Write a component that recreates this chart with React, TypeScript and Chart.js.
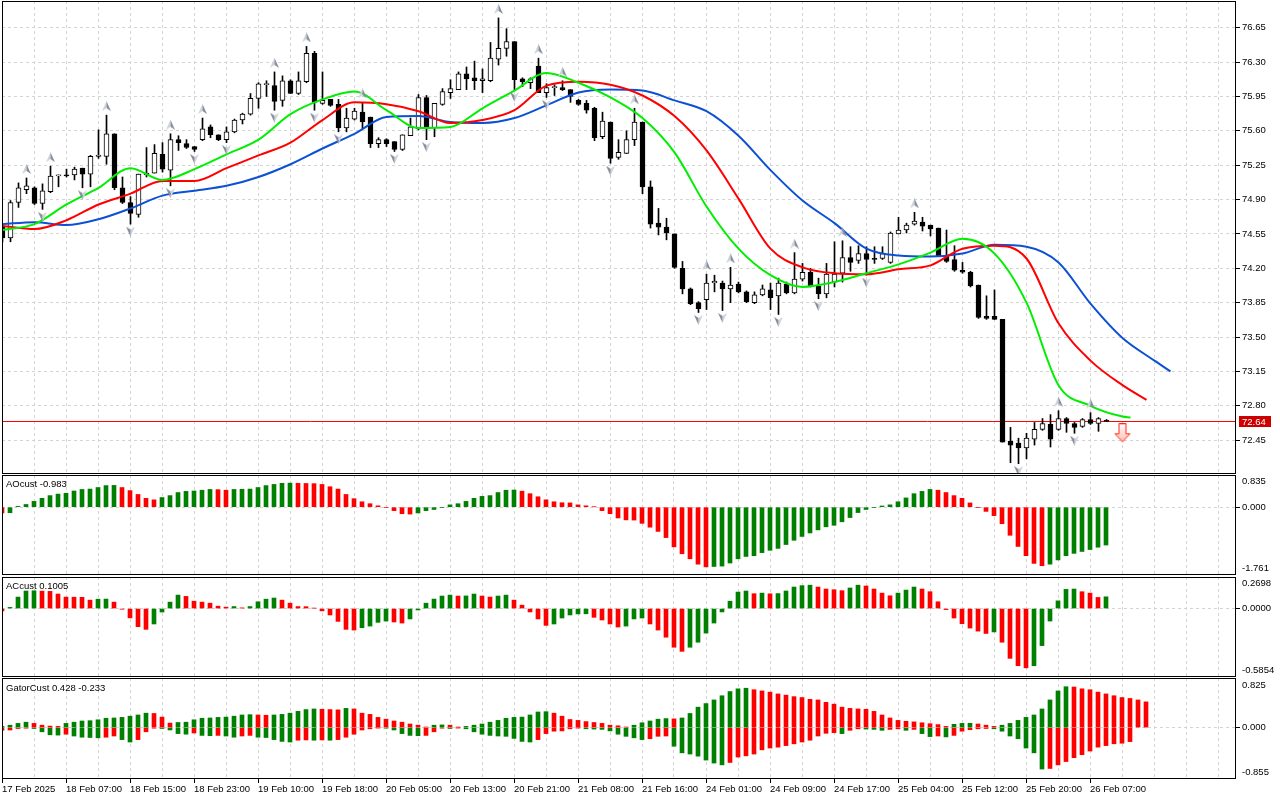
import { useEffect, useRef } from 'react'
import { Chart, registerables } from 'chart.js'

Chart.register(...registerables)

const FONT = 'Tahoma, "Liberation Sans", Arial, sans-serif'
const FONT_PX = 9.5
Chart.defaults.font.family = FONT
Chart.defaults.font.size = FONT_PX
Chart.defaults.color = '#000'

// ---- layout ----
const PLOT_W = 1234
const AXIS_W = 44
const BAR_PX = 8
const MAIN_X_MIN = -0.0625

const GREEN = '#008000'
const RED = '#ff0000'
const GRID = '#d4d4d4'
const BLUE_LINE = '#0c50d4'
const RED_LINE = '#ff0000'
const LIME_LINE = '#00ee00'

// ---- time axis (H1 bars, one label every 8 bars) ----
const timeLabels = [
  '17 Feb 2025', '18 Feb 07:00', '18 Feb 15:00', '18 Feb 23:00', '19 Feb 10:00', '19 Feb 18:00',
  '20 Feb 05:00', '20 Feb 13:00', '20 Feb 21:00', '21 Feb 08:00', '21 Feb 16:00', '24 Feb 01:00',
  '24 Feb 09:00', '24 Feb 17:00', '25 Feb 04:00', '25 Feb 12:00', '25 Feb 20:00', '26 Feb 07:00',
]
const gridBars = Array.from({ length: 39 }, (_, k) => k * 4)

// ---- price axis ----
const priceTicks = [72.45, 72.8, 73.15, 73.5, 73.85, 74.2, 74.55, 74.9, 75.25, 75.6, 75.95, 76.3, 76.65]
const PRICE_MIN = 72.1053
const PRICE_MAX = 76.9223

// ---- candles ----
const opens = [
  74.62, 74.51, 74.87, 75.00, 75.02, 74.86, 74.98, 75.14, 75.15, 75.15,
  75.22, 75.16, 75.34, 75.34, 75.57, 75.02, 74.87, 74.75, 75.15, 75.17,
  75.36, 75.20, 75.51, 75.47, 75.44, 75.51, 75.64, 75.56, 75.51, 75.59,
  75.71, 75.77, 75.93, 76.07, 76.06, 75.91, 76.11, 75.98, 76.10, 76.39,
  75.88, 75.92, 75.87, 75.63, 75.72, 75.79, 75.74, 75.47, 75.51, 75.49,
  75.41, 75.55, 75.62, 75.94, 75.63, 75.87, 75.99, 76.02, 76.18, 76.14,
  76.11, 76.11, 76.33, 76.44, 76.51, 76.13, 76.09, 76.26, 75.99, 76.04,
  76.04, 76.02, 75.91, 75.88, 75.83, 75.54, 75.69, 75.33, 75.37, 75.51,
  75.69, 75.03, 74.66, 74.62, 74.55, 74.20, 73.99, 73.85, 73.88, 74.05,
  74.05, 73.99, 74.04, 73.96, 73.85, 73.93, 73.98, 73.92, 74.04, 73.95,
  74.09, 74.16, 74.02, 73.94, 74.06, 74.15, 74.31, 74.28, 74.35, 74.30,
  74.30, 74.26, 74.55, 74.59, 74.65, 74.67, 74.64, 74.61, 74.32, 74.29,
  74.18, 74.16, 74.03, 73.71, 73.71, 73.68, 72.44, 72.42, 72.37, 72.46,
  72.56, 72.61, 72.56, 72.67, 72.62, 72.59, 72.66, 72.62, 72.65,
]
const highs = [
  74.65, 74.89, 75.07, 75.12, 75.03, 75.06, 75.24, 75.15, 75.21, 75.23,
  75.22, 75.35, 75.61, 75.76, 75.57, 75.13, 74.93, 75.16, 75.43, 75.46,
  75.48, 75.57, 75.55, 75.51, 75.44, 75.73, 75.66, 75.56, 75.64, 75.72,
  75.78, 75.98, 76.09, 76.11, 76.20, 76.16, 76.12, 76.20, 76.46, 76.41,
  76.20, 75.92, 75.92, 75.83, 75.83, 75.89, 75.74, 75.53, 75.52, 75.49,
  75.56, 75.73, 75.97, 75.96, 75.88, 76.03, 76.12, 76.20, 76.25, 76.31,
  76.23, 76.50, 76.75, 76.64, 76.51, 76.14, 76.14, 76.34, 76.08, 76.07,
  76.11, 76.02, 75.92, 75.91, 75.84, 75.79, 75.69, 75.51, 75.60, 75.83,
  75.69, 75.09, 74.81, 74.71, 74.55, 74.27, 74.00, 73.86, 74.14, 74.13,
  74.07, 74.21, 74.06, 73.97, 73.96, 74.03, 74.05, 74.10, 74.06, 74.36,
  74.25, 74.20, 74.10, 74.25, 74.47, 74.48, 74.42, 74.43, 74.42, 74.42,
  74.42, 74.57, 74.72, 74.66, 74.77, 74.72, 74.64, 74.61, 74.59, 74.43,
  74.26, 74.17, 74.03, 73.92, 73.98, 73.68, 72.58, 72.47, 72.52, 72.63,
  72.67, 72.71, 72.75, 72.68, 72.63, 72.67, 72.73, 72.68, 72.66,
]
const lows = [
  74.47, 74.47, 74.82, 74.96, 74.85, 74.80, 74.97, 75.03, 75.13, 75.10,
  75.02, 75.03, 75.32, 75.26, 75.00, 74.86, 74.65, 74.72, 75.13, 75.17,
  75.18, 75.04, 75.40, 75.42, 75.39, 75.50, 75.53, 75.50, 75.48, 75.58,
  75.67, 75.76, 75.83, 75.95, 75.81, 75.85, 75.98, 75.97, 76.09, 75.81,
  75.87, 75.85, 75.59, 75.59, 75.71, 75.62, 75.43, 75.43, 75.44, 75.39,
  75.40, 75.55, 75.61, 75.51, 75.54, 75.86, 75.93, 76.02, 76.02, 76.02,
  75.99, 76.10, 76.27, 76.36, 76.02, 76.05, 76.03, 75.99, 75.94, 75.96,
  76.01, 75.89, 75.86, 75.78, 75.50, 75.52, 75.27, 75.31, 75.37, 75.45,
  74.96, 74.61, 74.54, 74.49, 74.20, 73.94, 73.83, 73.75, 73.78, 73.96,
  73.77, 73.85, 73.95, 73.85, 73.84, 73.92, 73.78, 73.73, 73.94, 73.94,
  74.07, 74.01, 73.89, 73.90, 74.01, 74.06, 74.17, 74.25, 74.13, 74.25,
  74.29, 74.25, 74.55, 74.56, 74.64, 74.58, 74.53, 74.33, 74.26, 74.17,
  74.15, 74.01, 73.69, 73.68, 73.68, 72.43, 72.22, 72.21, 72.26, 72.40,
  72.55, 72.38, 72.55, 72.53, 72.52, 72.58, 72.61, 72.54, 72.64,
]
const closes = [
  74.51, 74.87, 75.02, 75.04, 74.86, 74.99, 75.14, 75.15, 75.14, 75.21,
  75.16, 75.34, 75.35, 75.57, 75.02, 74.87, 74.76, 75.16, 75.17, 75.37,
  75.21, 75.51, 75.48, 75.43, 75.41, 75.62, 75.56, 75.51, 75.59, 75.71,
  75.77, 75.93, 76.08, 76.08, 75.90, 76.11, 75.98, 76.11, 76.39, 75.89,
  75.91, 75.86, 75.63, 75.73, 75.80, 75.69, 75.47, 75.51, 75.47, 75.41,
  75.56, 75.64, 75.94, 75.62, 75.88, 76.00, 76.03, 76.18, 76.13, 76.11,
  76.13, 76.34, 76.44, 76.51, 76.12, 76.10, 76.13, 75.99, 76.04, 76.05,
  76.02, 75.95, 75.87, 75.81, 75.53, 75.70, 75.32, 75.38, 75.51, 75.69,
  75.03, 74.65, 74.62, 74.56, 74.21, 73.99, 73.84, 73.79, 74.05, 74.07,
  73.99, 74.03, 73.96, 73.86, 73.93, 73.99, 73.90, 74.05, 73.95, 74.09,
  74.16, 74.02, 73.94, 74.14, 74.14, 74.31, 74.26, 74.35, 74.29, 74.29,
  74.35, 74.56, 74.59, 74.64, 74.68, 74.63, 74.60, 74.33, 74.27, 74.18,
  74.16, 74.02, 73.70, 73.69, 73.68, 72.43, 72.40, 72.37, 72.47, 72.56,
  72.62, 72.46, 72.67, 72.62, 72.58, 72.66, 72.62, 72.67, 72.64,
]

// ---- alligator lines (jaw / teeth / lips), sampled every 4 bars ----
const jawBars = [0, 4, 8, 12, 16, 20, 24, 28, 32, 36, 40, 44, 48, 52, 56, 60, 64, 68, 72, 76, 80, 84, 88, 92, 96, 100, 104, 108, 112, 116, 120, 124, 128, 132, 136, 140, 144, 146]
const jaw = [
  74.65, 74.67, 74.64, 74.70, 74.81, 74.94, 74.99, 75.04, 75.13, 75.26,
  75.42, 75.57, 75.74, 75.75, 75.69, 75.68, 75.73, 75.86, 75.99, 76.02,
  76.01, 75.91, 75.80, 75.55, 75.20, 74.89, 74.66, 74.40, 74.33, 74.32,
  74.35, 74.44, 74.42, 74.26, 73.84, 73.49, 73.26, 73.15,
]
const teethBars = [0, 4, 8, 12, 16, 20, 24, 28, 32, 36, 40, 44, 48, 52, 56, 60, 64, 68, 72, 76, 80, 84, 88, 92, 96, 100, 104, 108, 112, 116, 120, 124, 128, 132, 136, 140, 143]
const teeth = [
  74.63, 74.60, 74.69, 74.85, 74.96, 75.09, 75.09, 75.22, 75.35, 75.48,
  75.71, 75.89, 75.87, 75.80, 75.68, 75.71, 75.81, 76.06, 76.10, 76.07,
  75.96, 75.75, 75.40, 74.91, 74.40, 74.21, 74.15, 74.14, 74.19, 74.23,
  74.40, 74.43, 74.30, 73.64, 73.26, 73.01, 72.86,
]
const lipsBars = [0, 4, 8, 12, 16, 20, 24, 28, 32, 36, 40, 44, 48, 52, 56, 60, 64, 68, 72, 76, 80, 84, 88, 92, 96, 100, 104, 108, 112, 116, 120, 124, 128, 132, 136, 140, 141]
const lips = [
  74.59, 74.65, 74.85, 75.02, 75.22, 75.10, 75.21, 75.36, 75.51, 75.77,
  75.92, 76.00, 75.81, 75.63, 75.64, 75.83, 76.01, 76.19, 76.09, 75.94,
  75.73, 75.38, 74.83, 74.40, 74.13, 74.01, 74.06, 74.15, 74.24, 74.36,
  74.50, 74.35, 73.85, 73.01, 72.80, 72.69, 72.68,
]

// ---- fractals and signal ----
const fractalUp = [3, 6, 13, 21, 25, 34, 38, 45, 62, 67, 70, 79, 88, 91, 99, 105, 114, 132, 136]
const fractalDown = [5, 10, 16, 21, 24, 28, 34, 39, 42, 49, 53, 64, 68, 76, 87, 90, 97, 102, 108, 127, 134]
const UP_GAP = 0.092
const DOWN_GAP = 0.076
const sellBar = 140
const sellPrice = 72.52

// ---- AO ----
const ao = [
  -0.150, -0.145, 0.02, 0.07, 0.15, 0.23, 0.30, 0.34, 0.36, 0.42,
  0.46, 0.47, 0.51, 0.56, 0.565, 0.51, 0.43, 0.33, 0.23, 0.19,
  0.25, 0.30, 0.38, 0.41, 0.42, 0.44, 0.46, 0.455, 0.44, 0.46,
  0.465, 0.47, 0.51, 0.56, 0.59, 0.62, 0.625, 0.62, 0.615, 0.61,
  0.59, 0.53, 0.47, 0.33, 0.22, 0.14, 0.09, 0.035, -0.01, -0.09,
  -0.17, -0.18, -0.15, -0.09, -0.06, -0.01, 0.06, 0.09, 0.15, 0.23,
  0.28, 0.30, 0.38, 0.44, 0.445, 0.415, 0.35, 0.27, 0.19, 0.14,
  0.115, 0.11, 0.06, 0.035, 0.01, -0.09, -0.17, -0.28, -0.33, -0.335,
  -0.42, -0.52, -0.63, -0.79, -1.03, -1.21, -1.34, -1.48, -1.55, -1.54,
  -1.53, -1.45, -1.34, -1.28, -1.26, -1.18, -1.12, -1.07, -0.97, -0.86,
  -0.76, -0.67, -0.59, -0.51, -0.47, -0.38, -0.27, -0.14, -0.06, -0.01,
  0.03, 0.06, 0.14, 0.24, 0.35, 0.41, 0.46, 0.44, 0.38, 0.30,
  0.23, 0.11, -0.01, -0.11, -0.22, -0.43, -0.73, -1.02, -1.26, -1.46,
  -1.52, -1.48, -1.37, -1.26, -1.20, -1.15, -1.10, -1.04, -0.983,
]
const AO_MAX = 0.835
const AO_MIN = -1.761

// ---- AC ----
const ac = [
  -0.02, 0.01, 0.098, 0.15, 0.152, 0.149, 0.147, 0.124, 0.098, 0.097,
  0.096, 0.072, 0.08, 0.081, 0.055, -0.006, -0.08, -0.155, -0.178, -0.132,
  -0.03, 0.055, 0.115, 0.104, 0.063, 0.055, 0.046, 0.02, 0.012, 0.017,
  0.006, 0.017, 0.058, 0.08, 0.09, 0.072, 0.046, 0.017, 0.016, 0.003,
  -0.02, -0.055, -0.11, -0.178, -0.184, -0.164, -0.15, -0.118, -0.107, -0.115,
  -0.124, -0.089, -0.012, 0.046, 0.081, 0.107, 0.115, 0.107, 0.108, 0.124,
  0.107, 0.098, 0.107, 0.115, 0.072, 0.029, -0.029, -0.089, -0.144, -0.132,
  -0.081, -0.055, -0.046, -0.045, -0.075, -0.098, -0.132, -0.158, -0.15, -0.089,
  -0.081, -0.132, -0.184, -0.245, -0.331, -0.366, -0.331, -0.288, -0.21, -0.124,
  -0.029, 0.063, 0.141, 0.15, 0.127, 0.132, 0.126, 0.128, 0.15, 0.184,
  0.196, 0.2, 0.184, 0.167, 0.161, 0.153, 0.176, 0.2, 0.193, 0.167,
  0.132, 0.109, 0.132, 0.158, 0.184, 0.167, 0.144, 0.058, -0.009, -0.081,
  -0.13, -0.167, -0.193, -0.213, -0.2, -0.288, -0.426, -0.489, -0.507, -0.489,
  -0.317, -0.107, 0.066, 0.164, 0.167, 0.144, 0.132, 0.095, 0.1005,
]
const AC_MAX = 0.2698
const AC_MIN = -0.5854

// ---- Gator ----
const gatorUpper = [
  0.02, 0.04, 0.07, 0.09, 0.07, 0.04, 0.025, 0.02, 0.07, 0.09,
  0.11, 0.115, 0.13, 0.155, 0.16, 0.17, 0.19, 0.21, 0.24, 0.235,
  0.175, 0.075, 0.085, 0.09, 0.13, 0.155, 0.16, 0.17, 0.175, 0.19,
  0.21, 0.215, 0.21, 0.205, 0.21, 0.22, 0.24, 0.27, 0.30, 0.31,
  0.305, 0.30, 0.295, 0.32, 0.31, 0.24, 0.22, 0.17, 0.14, 0.11,
  0.09, 0.06, 0.04, 0.01, 0.04, 0.045, 0.04, 0.01, 0.02, 0.04,
  0.06, 0.09, 0.12, 0.155, 0.17, 0.175, 0.21, 0.26, 0.265, 0.24,
  0.19, 0.135, 0.12, 0.10, 0.085, 0.07, 0.04, 0.03, 0.01, 0.04,
  0.08, 0.11, 0.14, 0.15, 0.145, 0.16, 0.235, 0.34, 0.40, 0.46,
  0.53, 0.60, 0.645, 0.655, 0.63, 0.61, 0.59, 0.56, 0.54, 0.515,
  0.50, 0.47, 0.46, 0.42, 0.39, 0.34, 0.32, 0.31, 0.305, 0.27,
  0.21, 0.16, 0.12, 0.105, 0.095, 0.08, 0.065, 0.05, 0.02, 0.055,
  0.07, 0.072, 0.06, 0.04, 0.02, 0.04, 0.07, 0.12, 0.17, 0.21,
  0.31, 0.46, 0.61, 0.68, 0.675, 0.645, 0.63, 0.59, 0.56, 0.53,
  0.50, 0.485, 0.46, 0.428,
]
const gatorLower = [
  -0.045, -0.04, -0.015, -0.01, -0.015, -0.07, -0.12, -0.125, -0.11, -0.14,
  -0.16, -0.165, -0.17, -0.16, -0.14, -0.20, -0.24, -0.20, -0.07, -0.01,
  -0.015, -0.04, -0.10, -0.11, -0.09, -0.13, -0.135, -0.13, -0.14, -0.16,
  -0.14, -0.13, -0.16, -0.165, -0.20, -0.23, -0.24, -0.21, -0.205, -0.21,
  -0.205, -0.21, -0.20, -0.16, -0.11, -0.04, -0.02, -0.005, -0.01, -0.04,
  -0.10, -0.13, -0.135, -0.13, -0.07, -0.01, -0.015, -0.005, -0.02, -0.07,
  -0.11, -0.13, -0.14, -0.145, -0.18, -0.23, -0.24, -0.20, -0.10, -0.06,
  -0.055, -0.02, -0.005, -0.02, -0.025, -0.03, -0.055, -0.11, -0.145, -0.17,
  -0.20, -0.185, -0.145, -0.14, -0.31, -0.42, -0.44, -0.475, -0.54, -0.59,
  -0.62, -0.58, -0.49, -0.47, -0.44, -0.37, -0.34, -0.325, -0.30, -0.27,
  -0.24, -0.21, -0.14, -0.095, -0.085, -0.10, -0.045, -0.02, -0.025, -0.03,
  -0.045, -0.03, -0.02, -0.045, -0.03, -0.10, -0.15, -0.14, -0.155, -0.13,
  -0.06, -0.035, -0.02, -0.015, -0.02, -0.06, -0.14, -0.185, -0.34, -0.42,
  -0.69, -0.68, -0.62, -0.565, -0.50, -0.45, -0.39, -0.325, -0.30, -0.27,
  -0.26, -0.233,
]
const GATOR_MAX = 0.825
const GATOR_MIN = -0.855

// ---- helpers ----
const fmt = (v: number, d: number) => (v + Math.sign(v) * 1e-9).toFixed(d)
const last = (a: number[]) => a[a.length - 1]

// green when the bar grows against the previous one (absolute size for the gator's lower half)
function barColors(vals: number[], firstUp: boolean, useAbs = false) {
  return vals.map((v, i) => {
    if (i === 0) return firstUp ? GREEN : RED
    const up = useAbs ? Math.abs(v) > Math.abs(vals[i - 1]) : v > vals[i - 1]
    return up ? GREEN : RED
  })
}

function fractalIcon() {
  const c = document.createElement('canvas')
  c.width = 9
  c.height = 10
  const g = c.getContext('2d')!
  g.beginPath()
  g.moveTo(4.5, 0)
  g.lineTo(4.5, 7)
  g.lineTo(0, 10)
  g.closePath()
  g.fillStyle = '#cfd3db'
  g.fill()
  g.beginPath()
  g.moveTo(4.5, 0)
  g.lineTo(9, 10)
  g.lineTo(4.5, 7)
  g.closePath()
  g.fillStyle = '#878e9c'
  g.fill()
  return c
}

function sellIcon() {
  const c = document.createElement('canvas')
  c.width = 18
  c.height = 20
  const g = c.getContext('2d')!
  g.beginPath()
  g.moveTo(5.5, 0.5)
  g.lineTo(12.5, 0.5)
  g.lineTo(12.5, 10.5)
  g.lineTo(16.5, 10.5)
  g.lineTo(9, 18.5)
  g.lineTo(1.5, 10.5)
  g.lineTo(5.5, 10.5)
  g.closePath()
  const grad = g.createLinearGradient(0, 0, 0, 20)
  grad.addColorStop(0, '#ffffff')
  grad.addColorStop(1, '#ffb8ac')
  g.fillStyle = grad
  g.fill()
  g.strokeStyle = '#ff2a10'
  g.lineWidth = 1
  g.stroke()
  return c
}

const framePlugin = {
  id: 'frame',
  afterDraw(chart: any) {
    const { ctx, chartArea: a } = chart
    ctx.save()
    ctx.strokeStyle = '#000'
    ctx.lineWidth = 1
    ctx.strokeRect(a.left + 0.5, a.top + 0.5, a.right - a.left - 1, a.bottom - a.top - 1)
    ctx.restore()
  },
}

const lastClose = last(closes)
const priceBoxPlugin = {
  id: 'priceBox',
  afterDraw(chart: any) {
    const { ctx, chartArea: a, scales } = chart
    const y = Math.floor(scales.y.getPixelForValue(lastClose))
    ctx.save()
    ctx.fillStyle = '#cc0000'
    ctx.fillRect(a.right + 3, y - 5, 32, 11)
    ctx.fillStyle = '#fff'
    ctx.font = `${FONT_PX}px ${FONT}`
    ctx.textBaseline = 'middle'
    ctx.fillText(lastClose.toFixed(2), a.right + 6, y + 1)
    ctx.restore()
  },
}

// scales keep their label paddings out of the plot area
const noPadding = (s: any) => {
  s.paddingTop = 0
  s.paddingBottom = 0
  s.paddingLeft = 0
  s.paddingRight = 0
}

function xAxis(min: number, withLabels: boolean) {
  return {
    type: 'linear',
    offset: false,
    min,
    max: min + PLOT_W / BAR_PX,
    afterBuildTicks: (s: any) => {
      s.ticks = gridBars.map((value) => ({ value }))
    },
    afterFit: (s: any) => {
      s.height = withLabels ? 21 : 0
      noPadding(s)
    },
    ticks: {
      display: withLabels,
      autoSkip: false,
      maxRotation: 0,
      minRotation: 0,
      align: 'start',
      padding: 1,
      callback: (_v: any, i: number) => (i % 2 === 0 ? timeLabels[i / 2] ?? '' : ''),
    },
    grid: {
      offset: false,
      color: GRID,
      drawTicks: withLabels,
      tickLength: 4,
      tickColor: (c: any) => (c.index % 2 === 0 && c.index / 2 < timeLabels.length ? '#000' : 'rgba(0,0,0,0)'),
    },
    border: { display: false, dash: [3, 3] },
  }
}

function subYAxis(min: number, max: number, zeroLabel: string) {
  return {
    type: 'linear',
    position: 'right',
    min,
    max,
    afterBuildTicks: (s: any) => {
      s.ticks = [{ value: 0 }]
    },
    afterFit: (s: any) => {
      s.width = AXIS_W
      noPadding(s)
    },
    ticks: { padding: 2, callback: () => zeroLabel },
    grid: { color: GRID, tickLength: 4, tickColor: '#000' },
    border: { display: false, dash: [3, 3] },
  }
}

const baseOptions = {
  animation: false,
  responsive: false,
  events: [],
  layout: { padding: 0, autoPadding: false },
  plugins: { legend: { display: false }, tooltip: { enabled: false } },
}

function alligatorLine(xs: number[], ys: number[], color: string, order: number) {
  return {
    type: 'line',
    order,
    data: xs.map((x, k) => ({ x, y: ys[k] })),
    borderColor: color,
    borderWidth: 2,
    pointRadius: 0,
    cubicInterpolationMode: 'monotone',
    fill: false,
  }
}

function buildMain(): any {
  const arrow = fractalIcon()
  const bars = opens.map((_, i) => i)
  return {
    type: 'bar',
    data: {
      datasets: [
        {
          // last price level across the whole plot
          type: 'line',
          order: 7,
          borderColor: '#ff0000',
          borderWidth: 1,
          pointRadius: 0,
          fill: false,
          data: [
            { x: MAIN_X_MIN, y: lastClose },
            { x: MAIN_X_MIN + PLOT_W / BAR_PX, y: lastClose },
          ],
        },
        {
          type: 'bar',
          order: 6,
          grouped: false,
          barThickness: 1,
          backgroundColor: '#000',
          data: bars.map((i) => ({ x: i, y: [lows[i], highs[i]] })),
        },
        {
          type: 'bar',
          order: 5,
          grouped: false,
          barThickness: 5,
          borderWidth: 1,
          borderColor: '#000',
          borderSkipped: false,
          backgroundColor: bars.map((i) => (closes[i] >= opens[i] ? '#fff' : '#000')),
          data: bars.map((i) => {
            const lo = Math.min(opens[i], closes[i])
            const hi = Math.max(opens[i], closes[i])
            return { x: i, y: [lo, Math.max(hi, lo + 0.012)] }
          }),
        },
        alligatorLine(jawBars, jaw, BLUE_LINE, 4),
        alligatorLine(teethBars, teeth, RED_LINE, 3),
        alligatorLine(lipsBars, lips, LIME_LINE, 2),
        {
          type: 'line',
          order: 1,
          showLine: false,
          pointStyle: arrow,
          pointRadius: 5,
          data: fractalUp.map((i) => ({ x: i, y: highs[i] + UP_GAP })),
        },
        {
          type: 'line',
          order: 1,
          showLine: false,
          pointStyle: arrow,
          pointRotation: 180,
          pointRadius: 5,
          data: fractalDown.map((i) => ({ x: i, y: lows[i] - DOWN_GAP })),
        },
        {
          type: 'line',
          order: 0,
          showLine: false,
          pointStyle: sellIcon(),
          pointRadius: 8,
          data: [{ x: sellBar, y: sellPrice }],
        },
      ],
    },
    options: {
      ...baseOptions,
      scales: {
        x: xAxis(MAIN_X_MIN, false),
        y: {
          type: 'linear',
          position: 'right',
          min: PRICE_MIN,
          max: PRICE_MAX,
          afterBuildTicks: (s: any) => {
            s.ticks = priceTicks.map((value) => ({ value }))
          },
          afterFit: (s: any) => {
            s.width = AXIS_W
            noPadding(s)
          },
          ticks: { padding: 2, callback: (v: any) => Number(v).toFixed(2) },
          grid: { color: GRID, tickLength: 4, tickColor: '#000' },
          border: { display: false, dash: [3, 3] },
        },
      },
    },
    plugins: [priceBoxPlugin, framePlugin],
  }
}

function histogram(values: number[], colors: string[]) {
  return {
    type: 'bar',
    grouped: false,
    barThickness: 4,
    borderWidth: 0,
    backgroundColor: colors,
    data: values.map((y, x) => ({ x, y })),
  }
}

function buildAO(): any {
  return {
    type: 'bar',
    data: { datasets: [histogram(ao, barColors(ao, false))] },
    options: { ...baseOptions, scales: { x: xAxis(0, false), y: subYAxis(AO_MIN, AO_MAX, '0.000') } },
    plugins: [framePlugin],
  }
}

function buildAC(): any {
  return {
    type: 'bar',
    data: { datasets: [histogram(ac, barColors(ac, false))] },
    options: { ...baseOptions, scales: { x: xAxis(0, false), y: subYAxis(AC_MIN, AC_MAX, '0.0000') } },
    plugins: [framePlugin],
  }
}

function buildGator(): any {
  return {
    type: 'bar',
    data: {
      datasets: [
        histogram(gatorUpper, barColors(gatorUpper, true)),
        histogram(gatorLower, barColors(gatorLower, false, true)),
      ],
    },
    options: { ...baseOptions, scales: { x: xAxis(0, true), y: subYAxis(GATOR_MIN, GATOR_MAX, '0.000') } },
    plugins: [framePlugin],
  }
}

function ChartCanvas({ top, height, build }: { top: number; height: number; build: () => any }) {
  const canvasRef = useRef<HTMLCanvasElement>(null)

  useEffect(() => {
    if (!canvasRef.current) return
    const chart = new Chart(canvasRef.current, build())
    return () => {
      chart.destroy()
    }
  }, [build])

  return (
    <canvas
      ref={canvasRef}
      width={PLOT_W + AXIS_W}
      height={height}
      style={{ position: 'absolute', left: 2, top, width: PLOT_W + AXIS_W, height }}
    />
  )
}

function Label({ left, top, children }: { left: number; top: number; children: any }) {
  return (
    <div
      style={{
        position: 'absolute',
        left,
        top,
        font: `${FONT_PX}px ${FONT}`,
        lineHeight: '12px',
        color: '#000',
        whiteSpace: 'nowrap',
      }}
    >
      {children}
    </div>
  )
}

export default function App() {
  const axisX = 2 + PLOT_W + 6
  return (
    <div
      style={{
        position: 'fixed',
        left: 0,
        top: 0,
        width: 1280,
        height: 800,
        background: '#fff',
        overflow: 'hidden',
      }}
    >
      <ChartCanvas top={1} height={473} build={buildMain} />
      <ChartCanvas top={475} height={100} build={buildAO} />
      <ChartCanvas top={577} height={100} build={buildAC} />
      <ChartCanvas top={678} height={122} build={buildGator} />

      <Label left={6} top={478}>AOcust {fmt(last(ao), 3)}</Label>
      <Label left={6} top={580}>ACcust {fmt(last(ac), 4)}</Label>
      <Label left={6} top={682}>
        GatorCust {fmt(last(gatorUpper), 3)} {fmt(last(gatorLower), 3)}
      </Label>

      <Label left={axisX} top={475}>{fmt(AO_MAX, 3)}</Label>
      <Label left={axisX} top={562}>{fmt(AO_MIN, 3)}</Label>
      <Label left={axisX} top={577}>{fmt(AC_MAX, 4)}</Label>
      <Label left={axisX} top={664}>{fmt(AC_MIN, 4)}</Label>
      <Label left={axisX} top={679}>{fmt(GATOR_MAX, 3)}</Label>
      <Label left={axisX} top={766}>{fmt(GATOR_MIN, 3)}</Label>
    </div>
  )
}
